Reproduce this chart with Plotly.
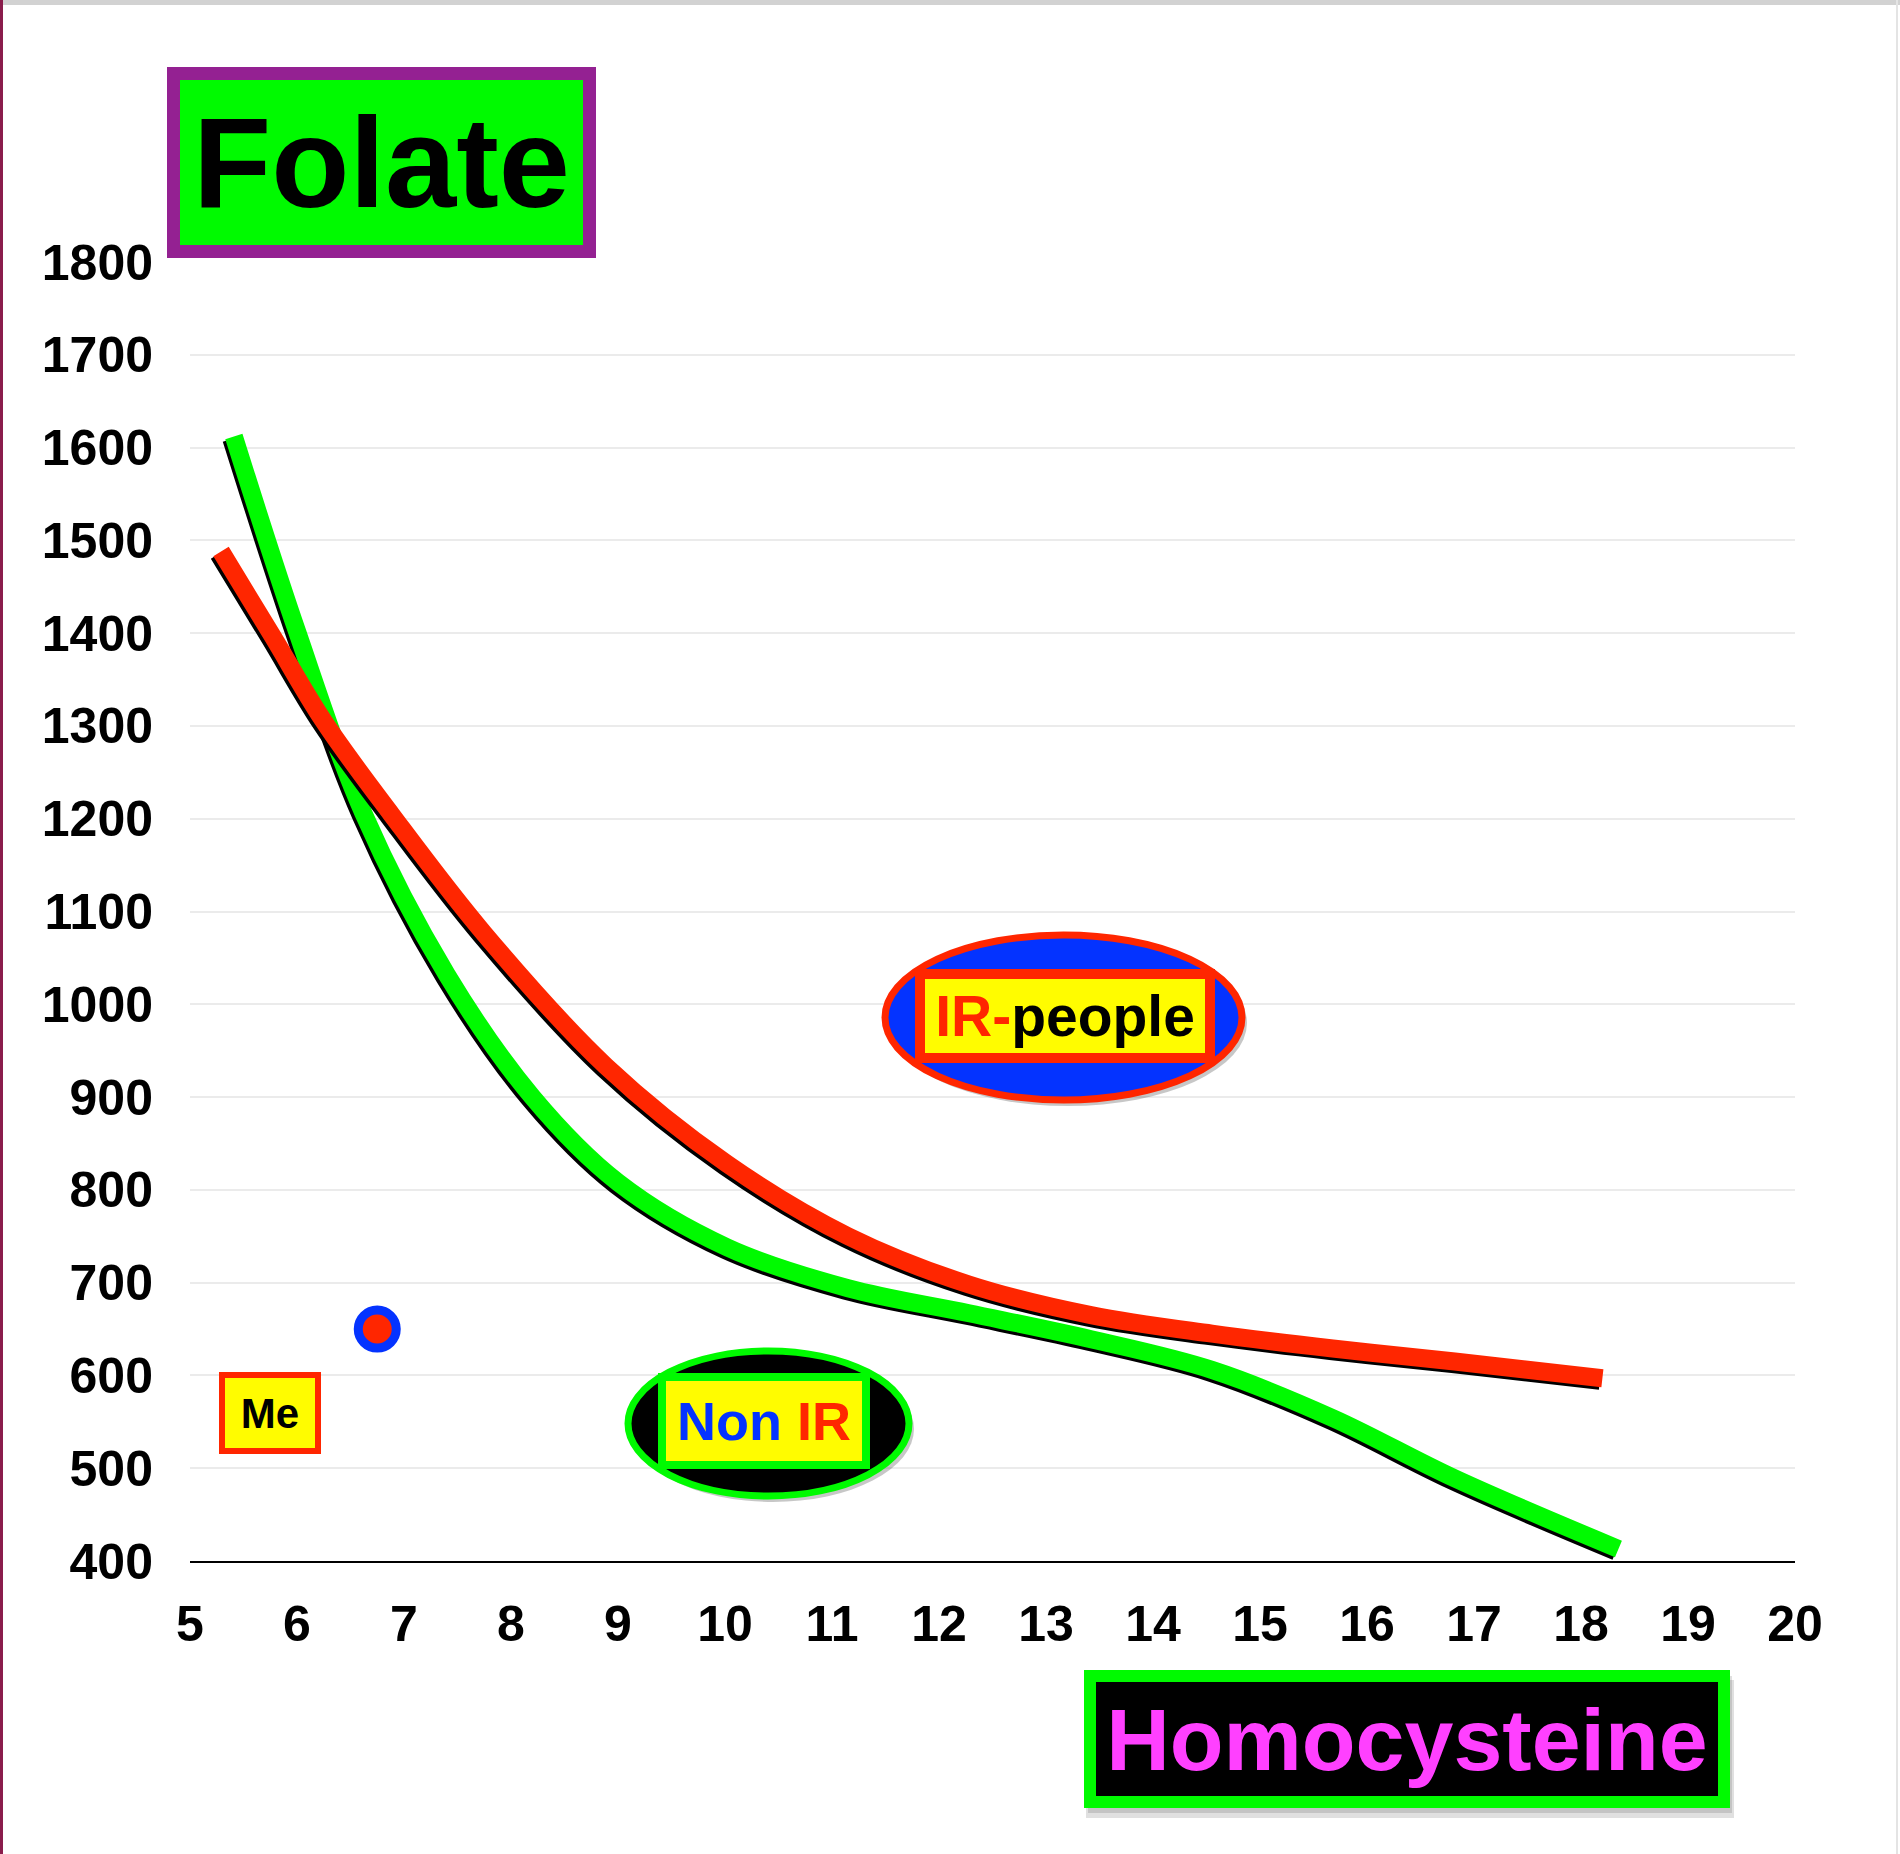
import plotly.graph_objects as go

# Folate (y) against homocysteine (x)
non_ir_hcy = [5.41, 6.0, 6.62, 7.4, 8.2, 9.0, 10.02, 11.15, 12.28, 13.42, 14.55, 15.68, 16.82, 18.35]
non_ir_folate = [1612, 1402, 1206, 1032, 900, 808, 738, 694, 667, 639, 606, 554, 489, 413]

ir_hcy = [5.29, 5.77, 6.25, 6.88, 7.75, 8.89, 10.02, 11.15, 12.28, 13.42, 14.55, 15.68, 16.82, 18.2]
ir_folate = [1488, 1397, 1305, 1205, 1076, 933, 828, 750, 698, 665, 645, 629, 615, 597]

me_hcy = [6.75]
me_folate = [650]

x_ticks = list(range(5, 21))
y_ticks = list(range(400, 1801, 100))

# page / plot geometry in pixels
W, H = 1900, 1854
L, R, T, B = 190, 105, 262, 293
PW, PH = W - L - R, H - T - B
X_RANGE = [5, 20]
Y_RANGE = [400, 1800]

GREEN = "#00FA00"
RED = "#FF2600"
BLUE = "#0433FF"
YELLOW = "#FFFC00"
PURPLE = "#942192"
MAGENTA = "#FF40FF"
FONT = "Liberation Sans"
LINE_W = 18


def px(x):
    return (x - L) / PW


def py(y):
    return (H - B - y) / PH


# shadow offset (down-left) expressed as a range shift
SH = 2.5
sx = SH * (X_RANGE[1] - X_RANGE[0]) / PW
sy = SH * (Y_RANGE[1] - Y_RANGE[0]) / PH

fig = go.Figure()

fig.add_trace(go.Scatter(
    x=me_hcy, y=me_folate, mode="markers", name="Me",
    marker=dict(size=38, color=RED, line=dict(color=BLUE, width=9)),
))

curves = [
    (non_ir_hcy, non_ir_folate, GREEN, 2),
    (ir_hcy, ir_folate, RED, 4),
]
for xs, ys, col, ax in curves:
    fig.add_trace(go.Scatter(
        x=xs, y=ys, mode="lines", line=dict(color="black", width=LINE_W, shape="spline"),
        xaxis=f"x{ax}", yaxis=f"y{ax}", hoverinfo="skip",
    ))
    fig.add_trace(go.Scatter(
        x=xs, y=ys, mode="lines", line=dict(color=col, width=LINE_W, shape="spline"),
        xaxis=f"x{ax + 1}", yaxis=f"y{ax + 1}",
    ))

tickfont = dict(family=FONT, size=50, color="black", weight="bold")

layout_axes = {}
for ax in (2, 3, 4, 5):
    shadow = ax in (2, 4)
    layout_axes[f"xaxis{ax}"] = dict(
        overlaying="x", visible=False, fixedrange=True,
        range=[X_RANGE[0] + sx, X_RANGE[1] + sx] if shadow else X_RANGE,
    )
    layout_axes[f"yaxis{ax}"] = dict(
        overlaying="y", visible=False, fixedrange=True,
        range=[Y_RANGE[0] + sy, Y_RANGE[1] + sy] if shadow else Y_RANGE,
    )

fig.update_layout(
    width=W, height=H,
    margin=dict(l=L, r=R, t=T, b=B),
    paper_bgcolor="white", plot_bgcolor="white",
    showlegend=False,
    xaxis=dict(
        range=X_RANGE, tickvals=x_ticks, ticktext=[str(v) for v in x_ticks],
        showgrid=False, zeroline=False, showline=True, linecolor="black", linewidth=2,
        ticks="", tickfont=tickfont, ticklabelstandoff=18, fixedrange=True,
    ),
    yaxis=dict(
        range=Y_RANGE, tickvals=y_ticks, ticktext=[str(v) for v in y_ticks],
        showgrid=True, gridcolor="#EBEBEB", gridwidth=2, zeroline=False, showline=False,
        ticks="", tickfont=tickfont, ticklabelstandoff=36, fixedrange=True,
    ),
    **layout_axes,
)

shapes = [
    # window edges
    dict(type="rect", x0=px(0), x1=px(W), y0=py(0), y1=py(5), fillcolor="#D2D2D2", line_width=0),
    dict(type="rect", x0=px(0), x1=px(3), y0=py(0), y1=py(H), fillcolor="#8A1D4C", line_width=0),
    dict(type="rect", x0=px(W - 4), x1=px(W - 2), y0=py(0), y1=py(H), fillcolor="#E4E4E4", line_width=0),
    # IR-people ellipse with shadow
    dict(type="circle", x0=px(889), x1=px(1247), y0=py(940), y1=py(1106),
         fillcolor="rgba(0,0,0,0.22)", line_width=0),
    dict(type="circle", x0=px(885), x1=px(1242), y0=py(935), y1=py(1100),
         fillcolor=BLUE, line=dict(color=RED, width=7)),
    # Non IR ellipse with shadow
    dict(type="circle", x0=px(632), x1=px(914), y0=py(1356), y1=py(1502),
         fillcolor="rgba(0,0,0,0.22)", line_width=0),
    dict(type="circle", x0=px(628), x1=px(909), y0=py(1351), y1=py(1496),
         fillcolor="black", line=dict(color=GREEN, width=7)),
    # Homocysteine box shadow
    dict(type="rect", x0=px(1086), x1=px(1734), y0=py(1680), y1=py(1818),
         fillcolor="rgba(0,0,0,0.12)", line_width=0),
    dict(type="rect", x0=px(1088), x1=px(1732), y0=py(1676), y1=py(1813),
         fillcolor="rgba(0,0,0,0.12)", line_width=0),
]
for s in shapes:
    s.update(xref="paper", yref="paper", layer="above")
fig.update_layout(shapes=shapes)


def label(text, x0, y0, x1, y1, size, fg, bg, border, bw):
    fig.add_annotation(
        text=text, xref="paper", yref="paper",
        x=px((x0 + x1) / 2), y=py((y0 + y1) / 2), xanchor="center", yanchor="middle",
        showarrow=False, width=x1 - x0 - 2 * bw, height=y1 - y0 - 2 * bw,
        bgcolor=bg, bordercolor=border, borderwidth=bw, borderpad=0,
        font=dict(family=FONT, size=size, color=fg, weight="bold"),
    )


label("Folate", 167, 67, 596, 258, 128, "black", GREEN, PURPLE, 13)
label("Homocysteine", 1084, 1670, 1730, 1808, 88, MAGENTA, "black", GREEN, 12)
label(f'<span style="color:{RED}">IR-</span>people', 915, 969, 1215, 1063, 57, "black", YELLOW, RED, 10)
label(f'<span style="color:{BLUE}">Non</span> <span style="color:{RED}">IR</span>',
      658, 1373, 870, 1469, 54, "black", YELLOW, GREEN, 8)
label("Me", 219, 1372, 321, 1454, 42, "black", YELLOW, RED, 6)

fig.write_html("out.html", config={"displayModeBar": False},
               post_script="document.body.style.margin='0px';")
